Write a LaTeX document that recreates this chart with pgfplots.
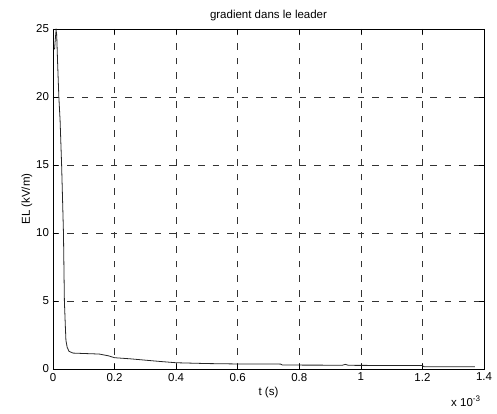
\documentclass[border=0pt]{standalone}
\usepackage{pgfplots}
\pgfplotsset{compat=1.18}
\usepackage{fontspec}
\setmainfont{Liberation Sans}
\begin{document}
\fontsize{11.5bp}{13bp}\selectfont
\begin{tikzpicture}
\begin{axis}[
  scale only axis,
  width=431bp, height=340bp,
  xmin=0, xmax=1.4, ymin=0, ymax=25,
  xtick={0,0.2,0.4,0.6,0.8,1,1.2,1.4},
  xticklabels={0,0.2,0.4,0.6,0.8,1,1.2,1.4},
  ytick={0,5,10,15,20,25},
  /pgf/number format/assume math mode=true,
  tick align=inside,
  major tick length=5bp,
  tick style={black, line width=0.5pt},
  axis line style={black, line width=0.7pt},
  grid=major,
  major grid style={black!80, dash pattern=on 6.5bp off 8bp, line width=0.5pt},
  title={gradient dans le leader},
  xlabel={t (s)},
  ylabel={EL (kV/m)},
  xlabel style={yshift=2bp},
  ylabel style={yshift=-4bp},
  ticklabel style={font=\fontsize{11.5bp}{13bp}\selectfont},
  label style={font=\fontsize{11.5bp}{13bp}\selectfont},
  title style={font=\fontsize{11.5bp}{13bp}\selectfont, yshift=-2bp},
]
\addplot[black!85, line width=0.8pt] coordinates {
(0.005,23.5) (0.008,24.4) (0.010,24.9) (0.012,24.6) (0.015,22.5)
(0.019,20.0) (0.023,18.3) (0.028,15) (0.034,10) (0.037,5)
(0.040,3.2) (0.042,2.1) (0.046,1.6) (0.052,1.3) (0.065,1.17)
(0.10,1.14) (0.15,1.10) (0.18,0.97) (0.20,0.83) (0.25,0.75)
(0.30,0.65) (0.35,0.55) (0.40,0.46) (0.50,0.40) (0.60,0.37)
(0.74,0.36) (0.745,0.29) (0.94,0.28) (0.95,0.34) (0.96,0.27)
(1.20,0.25) (1.205,0.17) (1.37,0.17)
};
\end{axis}
\node[anchor=base west, inner sep=0pt] at ([shift={(-33bp,-37bp)}]current axis.south east) {x 10\textsuperscript{-3}};
\pgfresetboundingbox
\path ([shift={(-53bp,-45bp)}]current axis.south west) rectangle ([shift={(13bp,29bp)}]current axis.north east);
\end{tikzpicture}
\end{document}
